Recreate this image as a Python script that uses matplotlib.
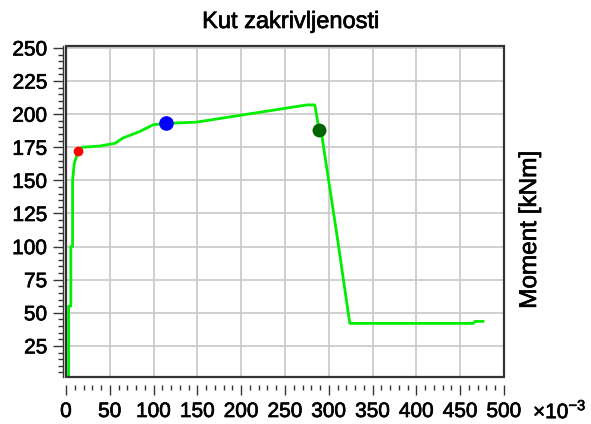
import matplotlib
matplotlib.use('Agg')
import matplotlib.pyplot as plt
import matplotlib.patheffects as pe
from matplotlib.patches import Rectangle
from matplotlib.ticker import MultipleLocator
import numpy as np

plt.rcParams['font.family'] = ['Liberation Sans', 'DejaVu Sans']
plt.rcParams['mathtext.fontset'] = 'custom'
plt.rcParams['mathtext.rm'] = 'Liberation Sans'

# curvature (x 10^-3) vs moment [kNm]
kut = [2.5, 3, 3, 5.5, 5.5, 7.5, 7.5, 9.5, 14, 18, 39, 56, 65, 84.5, 99.5, 114,
       149, 275, 284, 289, 292, 309, 320, 324, 465, 467, 476]
moment = [0, 0, 55, 55, 100, 100, 150, 163, 172, 175, 176, 178, 182, 187, 192, 193,
          194, 207, 207, 188, 184, 110, 60, 42, 42, 43.5, 43.5]

# marked points
red_pt = (14, 172)
blue_pt = (114, 193)
green_pt = (289, 188)

bold = [pe.withStroke(linewidth=0.5, foreground='black')]

fig = plt.figure(figsize=(5.91, 4.24), dpi=100)
ax = fig.add_axes([66/591, 1-377/424, 438/591, 331/424])

ax.grid(True, color='#c8c8c8', linewidth=1.2)
ax.set_axisbelow(True)

ax.plot(kut, moment, color='#00ee00', linewidth=2.0, zorder=3)
ax.plot(*red_pt, 'o', color='red', markersize=6, zorder=4)
ax.plot(*blue_pt, 'o', color='blue', markersize=9.5, zorder=4)
ax.plot(*green_pt, 'o', color='#006400', markersize=9, zorder=4)

ax.set_xlim(0, 500)
ax.set_ylim(1.5, 251.5)
ax.xaxis.set_major_locator(MultipleLocator(50))
ax.xaxis.set_minor_locator(MultipleLocator(10))
ax.yaxis.set_major_locator(MultipleLocator(25))
ax.yaxis.set_minor_locator(MultipleLocator(5))
ax.set_yticks(np.arange(25, 251, 25))

for s in ['top', 'right']:
    ax.spines[s].set_visible(False)
ax.spines['left'].set_position(('outward', 2.5))
ax.spines['left'].set_color('#333333')
ax.spines['left'].set_linewidth(1)
ax.spines['bottom'].set_position(('outward', 6))
ax.spines['bottom'].set_color('none')

ax.tick_params(axis='both', which='major', direction='out', length=7, width=1,
               color='#333333', labelsize=15)
ax.tick_params(axis='both', which='minor', direction='out', length=3.5, width=1,
               color='#333333')
ax.tick_params(axis='x', which='major', pad=5)
ax.tick_params(axis='y', which='major', pad=4)

fig.canvas.draw()
xt = ax.xaxis.get_major_ticks()
xt[0].tick1line.set_visible(False)
xt[-1].tick1line.set_visible(False)
for lbl in ax.get_xticklabels() + ax.get_yticklabels():
    lbl.set_path_effects(bold)

ax.add_patch(Rectangle((0, 0), 1, 1, transform=ax.transAxes, fill=False,
                       edgecolor='#333333', linewidth=1.6, clip_on=False, zorder=5))

fig.text(291/591, 1-22/424, 'Kut zakrivljenosti', ha='center', va='center',
         fontsize=17, path_effects=bold)
fig.text(530/591, 1-230/424, 'Moment [kNm]', ha='center', va='center',
         rotation=90, fontsize=17.5, path_effects=bold)
fig.text(533/591, 1-411/424, r'$\times10^{-3}$', ha='left', va='center',
         fontsize=15, path_effects=bold)

fig.savefig('out.png', dpi=100, facecolor='white')
